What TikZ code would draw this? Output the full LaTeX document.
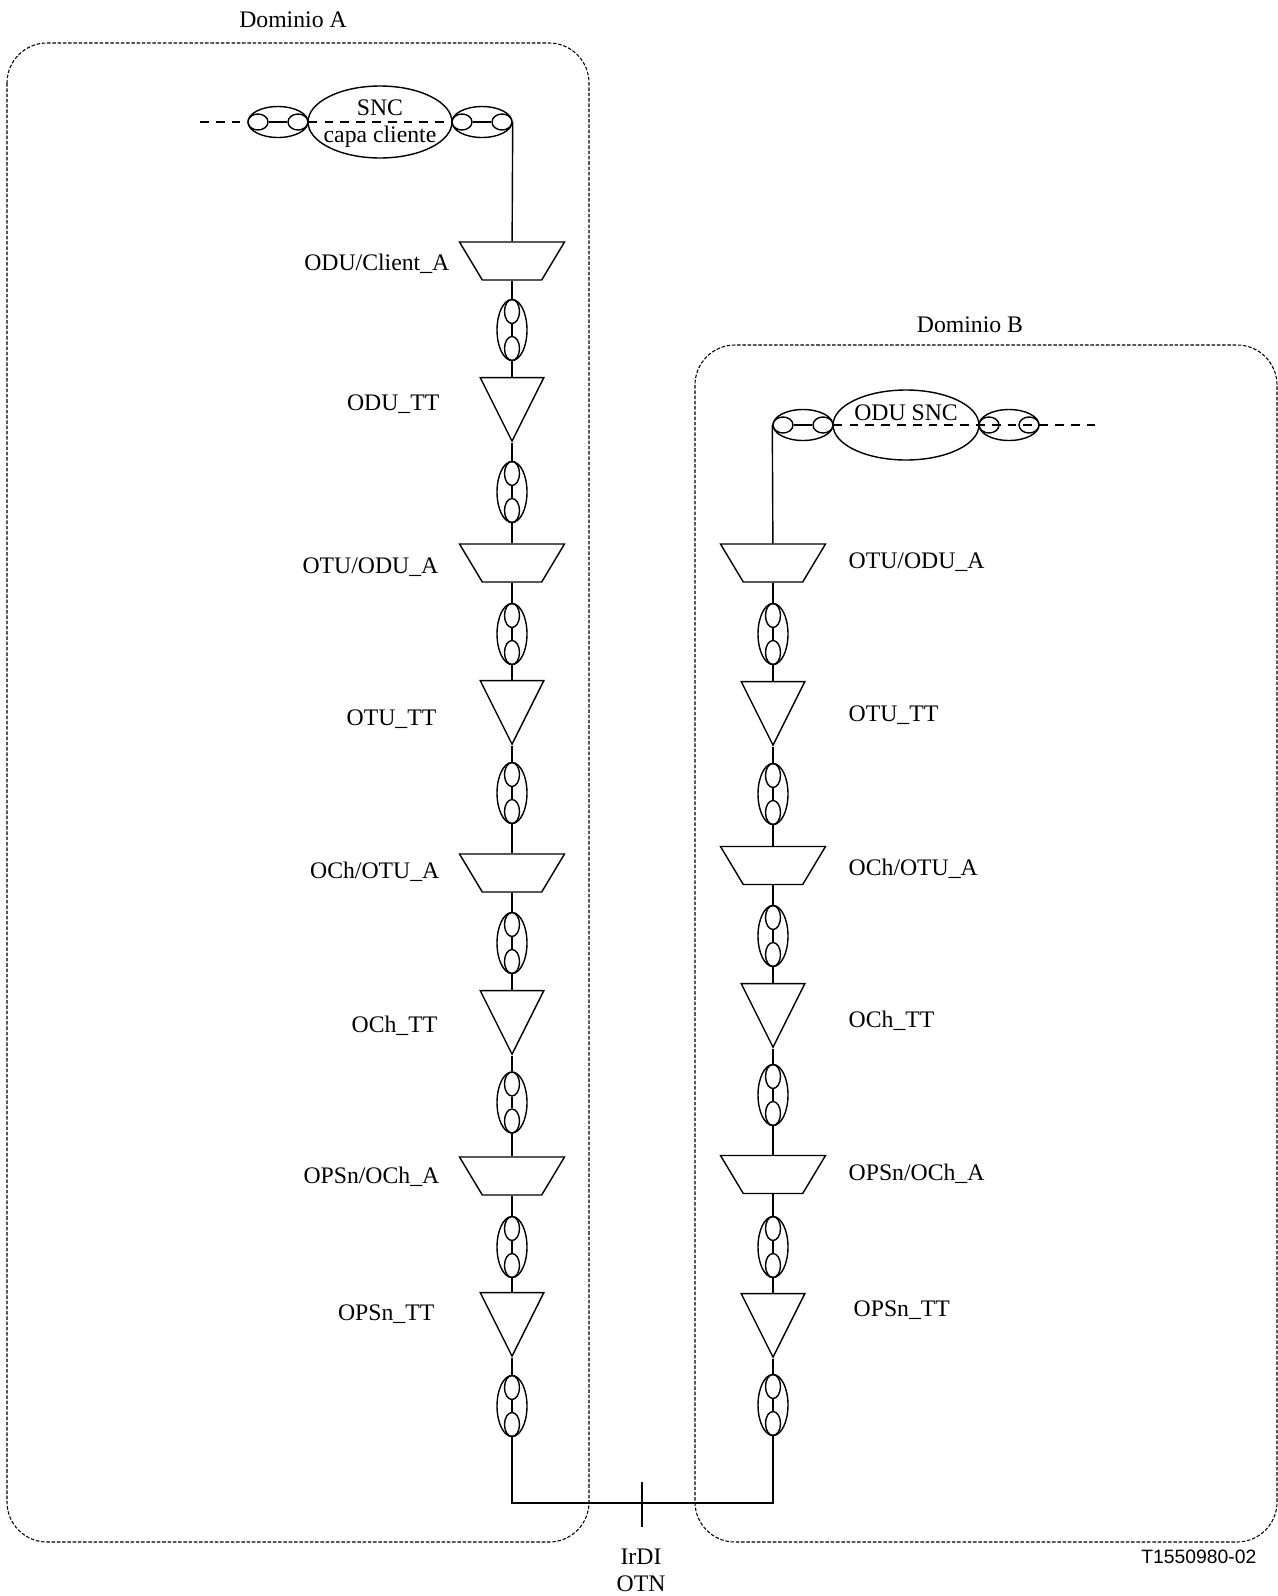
\documentclass[tikz,border=0pt]{standalone}
\usepackage{fontspec}
\setmainfont{Liberation Serif}
\newfontfamily\codefont{Liberation Sans}
\usepackage{tikz}
\usetikzlibrary{shapes,calc,positioning}

\begin{document}
\begin{tikzpicture}[x=0.02cm,y=-0.02cm,line width=0.8pt]
		\tikzstyle{dombox} = [draw, line width=0.6pt, dash pattern=on 2pt off 1pt, rounded corners=0.8cm];
		\tikzstyle{adapt} = [draw, trapezium, trapezium left angle=69, trapezium right angle=69,
		shape border rotate=180, trapezium stretches=true, minimum width=2.1cm, minimum height=0.76cm, inner sep=1pt];
		\tikzstyle{ttfun} = [draw, isosceles triangle, shape border rotate=-90, isosceles triangle stretches=true,
		minimum width=1.27cm, minimum height=1.27cm, inner sep=1pt, anchor=apex];
		\tikzstyle{linkv} = [draw, ellipse, minimum width=0.6cm, minimum height=1.22cm, inner sep=0pt];
		\tikzstyle{linkh} = [draw, ellipse, minimum width=1.2cm, minimum height=0.62cm, inner sep=0pt];
		\tikzstyle{portv} = [draw, ellipse, minimum width=0.3cm, minimum height=0.48cm, inner sep=0pt];
		\tikzstyle{porth} = [draw, ellipse, minimum width=0.4cm, minimum height=0.32cm, inner sep=0pt];
		\tikzstyle{sncell} = [draw, ellipse, inner sep=0pt];
		\tikzstyle{lbl} = [font=\fontsize{13.5}{15.5}\selectfont, inner sep=0pt];
		\tikzstyle{sncline} = [dash pattern=on 5pt off 4pt];
		\useasboundingbox (0,0) rectangle (1278,1596);

		% domains
		\draw[dombox] (7,43) rectangle (589,1542);
		\draw[dombox] (695,345) rectangle (1277,1542);
		\node[lbl](domA) at (293,20) {Dominio A};
		\node[lbl](domB) at (970,325) {Dominio B};

		% subnetwork connections
		\foreach \n/\x/\y in {pA1/278/122, pA2/482/122, pB1/803/425, pB2/1009/425} {
			\node[linkh](\n) at (\x,\y) {};
			\node[porth](\n-a) at (\x-20,\y) {};
			\node[porth](\n-b) at (\x+20,\y) {};
		}
		\node[sncell, minimum width=2.88cm, minimum height=1.44cm](sncA) at (380,122) {};
		\node[lbl, align=center](sncAtxt) at (380,124) {SNC\\capa cliente};
		\node[sncell, minimum width=2.92cm, minimum height=1.4cm](sncB) at (906,425) {};
		\node[lbl](sncBtxt) at (906,413) {ODU SNC};

		% Dominio A
		\node[adapt](adA1) at (512,261) {};
		\node[ttfun](tmA1) at (512,443) {};
		\node[adapt](adA2) at (512,563) {};
		\node[ttfun](tmA2) at (512,746) {};
		\node[adapt](adA3) at (512,873) {};
		\node[ttfun](tmA3) at (512,1056) {};
		\node[adapt](adA4) at (512,1176) {};
		\node[ttfun](tmA4) at (512,1358) {};
		\node[lbl, anchor=east](nA1) at (450,264) {ODU/Client\_A};
		\node[lbl, anchor=east](nA2) at (440,404) {ODU\_TT};
		\node[lbl, anchor=east](nA3) at (439,567) {OTU/ODU\_A};
		\node[lbl, anchor=east](nA4) at (437,719) {OTU\_TT};
		\node[lbl, anchor=east](nA5) at (440,872) {OCh/OTU\_A};
		\node[lbl, anchor=east](nA6) at (438,1026) {OCh\_TT};
		\node[lbl, anchor=east](nA7) at (440,1177) {OPSn/OCh\_A};
		\node[lbl, anchor=east](nA8) at (435,1314) {OPSn\_TT};

		% Dominio B
		\node[adapt](adB1) at (773,563) {};
		\node[ttfun](tmB1) at (773,747) {};
		\node[adapt](adB2) at (773,865.5) {};
		\node[ttfun](tmB2) at (773,1049) {};
		\node[adapt](adB3) at (773,1174.5) {};
		\node[ttfun](tmB3) at (773,1359) {};
		\node[lbl, anchor=west](nB1) at (848,562) {OTU/ODU\_A};
		\node[lbl, anchor=west](nB2) at (848,715) {OTU\_TT};
		\node[lbl, anchor=west](nB3) at (848,869) {OCh/OTU\_A};
		\node[lbl, anchor=west](nB4) at (848,1021) {OCh\_TT};
		\node[lbl, anchor=west](nB5) at (848,1174) {OPSn/OCh\_A};
		\node[lbl, anchor=west](nB6) at (853,1310) {OPSn\_TT};

		% link connections
		\foreach \n/\x/\y in {lA1/512/330, lA2/512/492, lA3/512/634, lA4/512/793, lA5/512/943,
			lA6/512/1102.5, lA7/512/1247, lA8/512/1406, lB1/773/634, lB2/773/794, lB3/773/936,
			lB4/773/1095, lB5/773/1247, lB6/773/1405} {
			\node[linkv](\n) at (\x,\y) {};
			\node[portv](\n-a) at (\x,\y-18.5) {};
			\node[portv](\n-b) at (\x,\y+18.5) {};
			\draw (\n-a) -- (\n-b);
		}

		\foreach \a/\b in {adA1/lA1, lA1/tmA1, tmA1/lA2, lA2/adA2, adA2/lA3, lA3/tmA2, tmA2/lA4,
			lA4/adA3, adA3/lA5, lA5/tmA3, tmA3/lA6, lA6/adA4, adA4/lA7, lA7/tmA4, tmA4/lA8,
			adB1/lB1, lB1/tmB1, tmB1/lB2, lB2/adB2, adB2/lB3, lB3/tmB2, tmB2/lB4, lB4/adB3,
			adB3/lB5, lB5/tmB3, tmB3/lB6}
			\draw (\a) -- (\b);

		% client side
		\coordinate (inA) at (200,122);
		\coordinate (outB) at (1100,425);
		\draw[sncline] (inA) -- (pA1.west);
		\draw (pA1-a) -- (pA1-b);
		\draw[sncline] (pA1-b.east) -- (pA2-a.west);
		\draw (pA2-a) -- (pA2-b);
		\draw (pA2-b.east) -- (adA1);
		\draw (pB1-a.west) -- (adB1);
		\draw (pB1-a) -- (pB1-b);
		\draw[sncline] (pB1-b.east) -- (outB);

		% IrDI
		\coordinate (cA) at (512,1503);
		\coordinate (cB) at (773,1503);
		\draw (lA8) -- (cA) -- (cB) -- (lB6);
		\coordinate (irT) at (642,1482);
		\coordinate (irB) at (642,1527);
		\draw (irT) -- (irB);
		\node[lbl, align=center](irdi) at (641,1570) {IrDI\\OTN};
		\node[font=\codefont\fontsize{11}{13}\selectfont, anchor=east, inner sep=0pt](code) at (1257,1557) {T1550980-02};
	\end{tikzpicture}
\end{document}
